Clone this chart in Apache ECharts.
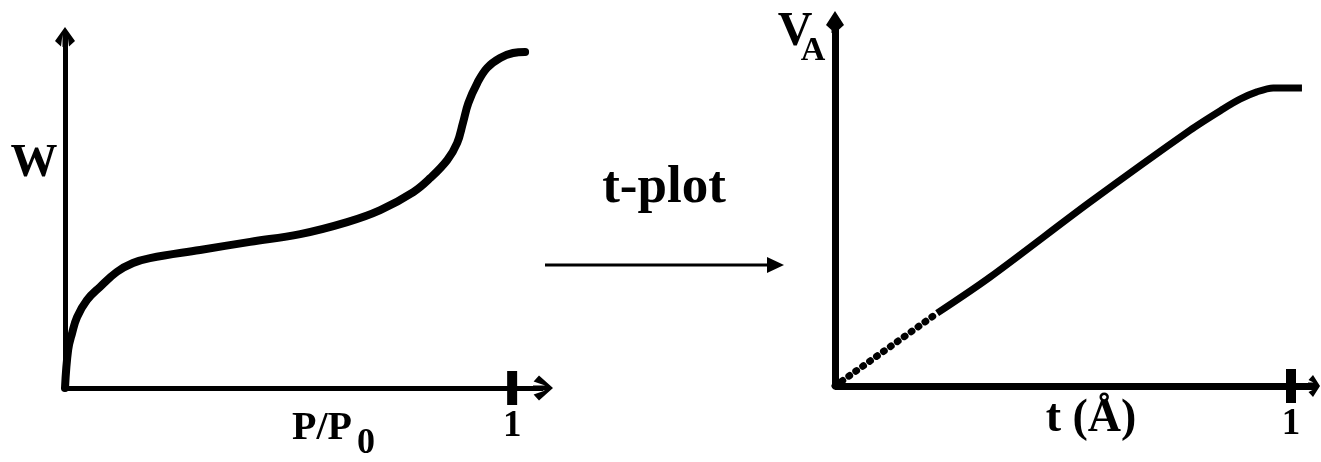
<!DOCTYPE html>
<html>
<head>
<meta charset="utf-8">
<style>
  html, body { margin: 0; padding: 0; background: #fff; }
  #chart { width: 1321px; height: 462px; }
</style>
<script src="https://cdn.jsdelivr.net/npm/echarts@6/dist/echarts.min.js"></script>
</head>
<body>
<div id="chart"></div>
<script>
// Adsorption isotherm: amount adsorbed W against relative pressure P/P0
const isothermP = [0, 0.007, 0.016, 0.027, 0.049, 0.078, 0.116, 0.152, 0.190, 0.302, 0.414, 0.526, 0.631, 0.705, 0.779, 0.817, 0.855, 0.877, 0.890, 0.902, 0.922, 0.944, 0.973, 1.002, 1.029];
const isothermW = [0, 0.108, 0.156, 0.201, 0.249, 0.286, 0.329, 0.354, 0.368, 0.391, 0.414, 0.436, 0.470, 0.504, 0.555, 0.595, 0.646, 0.694, 0.751, 0.807, 0.864, 0.907, 0.935, 0.949, 0.952];

// t-plot: adsorbed volume V_A against statistical film thickness t
const tDotted = [0, 0.224];
const vDotted = [0, 0.200];
const tSolid = [0.224, 0.340, 0.559, 0.779, 0.851, 0.888, 0.925, 0.961, 1.024];
const vSolid = [0.200, 0.299, 0.505, 0.703, 0.761, 0.788, 0.808, 0.819, 0.819];

// the only labelled tick on each horizontal axis
const xTickValues = [1];

const SERIF = '"Liberation Serif", "Times New Roman", serif';

function pairs(xs, ys) { return xs.map((x, i) => [x, ys[i]]); }

// open arrow head with a short stem, pointing up, drawn in a w x h box
function chevron(w, h, t, stem) {
  const hw = h - t;
  const pts = [
    [w / 2, 0], [w, hw], [w - t, hw + t * 0.9], [w / 2 + stem / 2, t * 1.3],
    [w / 2 + stem / 2, h], [w / 2 - stem / 2, h], [w / 2 - stem / 2, t * 1.3],
    [t, hw + t * 0.9], [0, hw]
  ];
  return 'path://M' + pts.map(p => p[0].toFixed(2) + ',' + p[1].toFixed(2)).join(' L') + ' Z';
}

function axisLine(width, size, offset, path) {
  return {
    show: true,
    onZero: true,
    symbol: ['none', path],
    symbolSize: size,
    symbolOffset: [0, offset],
    lineStyle: { color: '#000', width: width, cap: 'butt' }
  };
}

function xAxisFor(grid, max, lineW, arrowSize, arrowOff, path) {
  return {
    type: 'value', gridIndex: grid, min: 0, max: max, interval: 1,
    axisLine: axisLine(lineW, arrowSize, arrowOff, path),
    axisTick: { show: false },
    splitLine: { show: false },
    axisLabel: {
      show: true, margin: 20, color: '#000',
      fontFamily: SERIF, fontWeight: 'bold', fontSize: 37,
      showMaxLabel: false,
      formatter: v => (xTickValues.indexOf(v) >= 0 ? String(v) : '')
    }
  };
}

function yAxisFor(grid, lineW, arrowSize, arrowOff, path) {
  return {
    type: 'value', gridIndex: grid, min: 0, max: 1,
    axisLine: axisLine(lineW, arrowSize, arrowOff, path),
    axisTick: { show: false },
    splitLine: { show: false },
    axisLabel: { show: false }
  };
}

function tickMarks(xi, yi) {
  return {
    type: 'scatter', xAxisIndex: xi, yAxisIndex: yi, clip: false, silent: true,
    symbol: 'rect', symbolSize: [10, 34],
    itemStyle: { color: '#000', opacity: 1 },
    data: xTickValues.map(v => [v, 0]), z: 3
  };
}

function label(text, x, y, size, align) {
  return {
    type: 'text', x: x, y: y, silent: true,
    style: {
      text: text, fill: '#000', align: align || 'center', verticalAlign: 'middle',
      font: 'bold ' + size + 'px ' + SERIF
    }
  };
}

const chart = echarts.init(document.getElementById('chart'), null, { renderer: 'canvas' });

chart.setOption({
  backgroundColor: '#fff',
  animation: false,
  grid: [
    { left: 65, top: 35, width: 478, height: 353 },
    { left: 835, top: 22, width: 480, height: 364 }
  ],
  xAxis: [
    xAxisFor(0, 1.069, 5, [25, 20], 0, chevron(25, 20, 6, 5)),
    xAxisFor(1, 1.0526, 7, [22, 12], -1, chevron(22, 12, 5, 7))
  ],
  yAxis: [
    yAxisFor(0, 5, [20, 20], -2, chevron(20, 20, 6, 5)),
    yAxisFor(1, 7, [18, 22], 0, chevron(18, 22, 8, 7))
  ],
  series: [
    {
      type: 'line', xAxisIndex: 0, yAxisIndex: 0, clip: false, smooth: 0.4,
      showSymbol: false, silent: true,
      lineStyle: { color: '#000', width: 8, cap: 'round', join: 'round' },
      data: pairs(isothermP, isothermW), z: 4
    },
    tickMarks(0, 0),
    {
      type: 'line', xAxisIndex: 1, yAxisIndex: 1, clip: false,
      showSymbol: false, silent: true,
      lineStyle: { color: '#000', width: 7, type: [1, 7.5], cap: 'round' },
      data: pairs(tDotted, vDotted), z: 4
    },
    {
      type: 'line', xAxisIndex: 1, yAxisIndex: 1, clip: false, smooth: 0.3,
      showSymbol: false, silent: true,
      lineStyle: { color: '#000', width: 7, cap: 'butt', join: 'round' },
      data: pairs(tSolid, vSolid), z: 4
    },
    tickMarks(1, 1)
  ],
  graphic: [
    label('W', 34, 164, 47),
    label('P/P', 292, 429, 40, 'left'),
    label('0', 357, 444, 36, 'left'),
    label('V', 795, 33, 48),
    label('A', 813, 51, 34),
    label('t (Å)', 1091, 419, 46),
    label('t-plot', 664, 188, 53),
    {
      type: 'line', silent: true,
      shape: { x1: 545, y1: 265, x2: 772, y2: 265 },
      style: { stroke: '#000', lineWidth: 3 }
    },
    {
      type: 'polygon', silent: true,
      shape: { points: [[767, 257], [784, 265], [767, 273]] },
      style: { fill: '#000' }
    }
  ]
});
</script>
</body>
</html>
